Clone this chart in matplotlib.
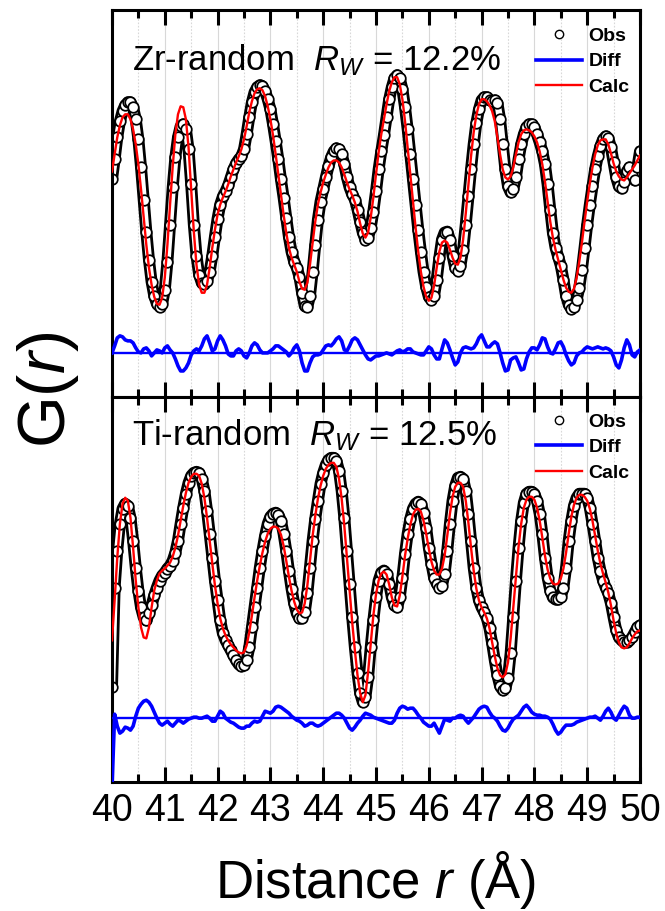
import numpy as np
import matplotlib
matplotlib.use("Agg")
import matplotlib.pyplot as plt
from matplotlib.ticker import MultipleLocator
from matplotlib.lines import Line2D

plt.rcParams['font.family'] = ['Liberation Sans', 'DejaVu Sans']
plt.rcParams['mathtext.fontset'] = 'custom'
plt.rcParams['mathtext.rm'] = 'Liberation Sans'
plt.rcParams['mathtext.it'] = 'Liberation Sans:italic'

# r grid, 0.05 A steps from 40 to 50
r = np.linspace(40.0, 50.0, 201)

# ---- Zr-random panel (top) ----
zr_obs = [
    0.30, 0.70, 1.14, 1.46, 1.66, 1.78, 1.84, 1.84, 1.74, 1.50,
    1.10, 0.54, -0.10, -0.74, -1.30, -1.74, -2.02, -2.18, -2.24, -2.18,
    -1.90, -1.34, -0.60, 0.14, 0.74, 1.14, 1.36, 1.40, 1.30, 0.90,
    0.20, -0.60, -1.22, -1.60, -1.76, -1.78, -1.72, -1.54, -1.22, -0.84,
    -0.48, -0.20, -0.04, 0.06, 0.18, 0.34, 0.50, 0.62, 0.70, 0.76,
    0.90, 1.20, 1.54, 1.84, 2.04, 2.14, 2.18, 2.16, 2.06, 1.90,
    1.70, 1.40, 1.06, 0.70, 0.30, -0.06, -0.46, -0.84, -1.14, -1.34,
    -1.46, -1.64, -1.96, -2.22, -2.24, -2.02, -1.54, -1.00, -0.50, -0.14,
    0.10, 0.34, 0.56, 0.74, 0.86, 0.92, 0.90, 0.80, 0.60, 0.34,
    0.14, 0.00, -0.10, -0.30, -0.54, -0.76, -0.90, -0.86, -0.66, -0.34,
    0.06, 0.50, 0.86, 1.18, 1.54, 1.90, 2.14, 2.32, 2.38, 2.32,
    2.10, 1.74, 1.30, 0.80, 0.30, -0.20, -0.70, -1.14, -1.54, -1.84,
    -2.04, -2.10, -2.02, -1.70, -1.26, -0.90, -0.76, -0.74, -0.90, -1.22,
    -1.46, -1.52, -1.42, -1.10, -0.60, -0.04, 0.50, 1.00, 1.42, 1.70,
    1.88, 1.94, 1.94, 1.88, 1.86, 1.88, 1.82, 1.50, 1.00, 0.50,
    0.16, 0.04, 0.10, 0.34, 0.70, 1.00, 1.20, 1.34, 1.40, 1.40,
    1.34, 1.20, 1.04, 0.86, 0.60, 0.20, -0.30, -0.76, -1.06, -1.24,
    -1.42, -1.70, -2.02, -2.20, -2.28, -2.24, -2.10, -1.86, -1.50, -1.06,
    -0.60, -0.20, 0.16, 0.50, 0.76, 0.96, 1.10, 1.16, 1.12, 0.94,
    0.64, 0.34, 0.16, 0.12, 0.24, 0.46, 0.54, 0.38, 0.28, 0.54,
    0.86,
]
zr_calc = [
    0.46, 0.80, 1.14, 1.38, 1.54, 1.60, 1.60, 1.50, 1.30, 1.00,
    0.60, 0.10, -0.46, -1.00, -1.46, -1.80, -2.04, -2.18, -2.20, -2.06,
    -1.66, -1.00, -0.20, 0.56, 1.20, 1.60, 1.76, 1.74, 1.50, 0.94,
    0.10, -0.74, -1.40, -1.80, -1.96, -1.96, -1.80, -1.46, -1.06, -0.70,
    -0.40, -0.20, -0.06, 0.06, 0.20, 0.36, 0.50, 0.64, 0.76, 0.90,
    1.10, 1.36, 1.64, 1.86, 2.02, 2.10, 2.12, 2.08, 1.96, 1.76,
    1.50, 1.18, 0.80, 0.40, 0.00, -0.40, -0.76, -1.06, -1.26, -1.40,
    -1.54, -1.74, -1.88, -1.90, -1.76, -1.40, -0.96, -0.54, -0.20, 0.04,
    0.24, 0.40, 0.54, 0.64, 0.68, 0.68, 0.64, 0.54, 0.40, 0.24,
    0.10, -0.02, -0.16, -0.34, -0.58, -0.78, -0.86, -0.76, -0.46, -0.06,
    0.40, 0.84, 1.20, 1.50, 1.80, 2.06, 2.24, 2.34, 2.34, 2.20,
    1.90, 1.46, 0.94, 0.40, -0.14, -0.66, -1.14, -1.54, -1.84, -2.04,
    -2.12, -2.06, -1.82, -1.46, -1.14, -0.96, -0.92, -0.96, -1.10, -1.26,
    -1.38, -1.40, -1.26, -0.90, -0.38, 0.20, 0.76, 1.24, 1.58, 1.80,
    1.90, 1.90, 1.86, 1.78, 1.66, 1.46, 1.14, 0.80, 0.50, 0.34,
    0.30, 0.36, 0.54, 0.80, 1.04, 1.20, 1.28, 1.30, 1.28, 1.24,
    1.16, 1.04, 0.86, 0.60, 0.26, -0.14, -0.54, -0.86, -1.10, -1.30,
    -1.50, -1.70, -1.86, -1.94, -1.96, -1.88, -1.66, -1.34, -0.96, -0.54,
    -0.14, 0.22, 0.54, 0.80, 0.98, 1.08, 1.10, 1.10, 1.00, 0.82,
    0.62, 0.46, 0.36, 0.30, 0.28, 0.34, 0.42, 0.50, 0.58, 0.68,
    0.78,
]
zr_diff = [
    0.00, 0.14, 0.30, 0.34, 0.32, 0.26, 0.24, 0.24, 0.20, 0.10,
    0.02, 0.00, 0.08, 0.10, 0.04, -0.06, 0.00, 0.06, 0.04, 0.00,
    0.10, 0.14, 0.06, 0.00, -0.12, -0.26, -0.36, -0.36, -0.30, -0.20,
    -0.04, 0.04, 0.08, 0.04, 0.14, 0.28, 0.34, 0.20, 0.04, 0.08,
    0.24, 0.34, 0.26, 0.14, -0.02, -0.06, -0.06, 0.04, 0.08, 0.04,
    -0.06, -0.10, 0.00, 0.14, 0.20, 0.16, 0.06, 0.00, 0.00, 0.00,
    0.04, 0.08, 0.14, 0.14, 0.10, 0.06, 0.02, -0.06, 0.00, 0.10,
    0.16, 0.04, -0.20, -0.36, -0.36, -0.20, -0.08, -0.04, -0.04, -0.02,
    0.06, 0.14, 0.16, 0.14, 0.20, 0.28, 0.32, 0.24, 0.06, 0.04,
    0.14, 0.26, 0.30, 0.26, 0.16, 0.06, -0.04, -0.12, -0.14, -0.10,
    -0.06, -0.06, -0.04, -0.02, 0.00, -0.02, -0.04, 0.00, 0.04, 0.06,
    0.02, 0.04, 0.08, 0.08, 0.02, 0.00, -0.02, -0.04, -0.04, 0.04,
    0.12, 0.08, -0.04, -0.12, -0.12, 0.08, 0.26, 0.20, 0.06, -0.10,
    -0.24, -0.18, 0.00, 0.10, 0.12, 0.10, 0.08, 0.10, 0.18, 0.30,
    0.36, 0.24, 0.12, 0.12, 0.18, 0.22, 0.18, 0.00, -0.20, -0.36,
    -0.34, -0.14, -0.10, -0.08, -0.20, -0.34, -0.32, -0.12, 0.02, 0.10,
    0.10, 0.06, 0.16, 0.30, 0.28, 0.12, 0.00, -0.02, 0.08, 0.20,
    0.22, 0.12, -0.04, -0.16, -0.24, -0.20, -0.06, 0.00, 0.02, 0.08,
    0.12, 0.10, 0.08, 0.10, 0.12, 0.10, 0.08, 0.10, 0.08, 0.04,
    -0.08, -0.24, -0.30, -0.14, 0.10, 0.26, 0.16, -0.04, -0.08, 0.02,
    0.06,
]
zr_diff_base = -3.16

# ---- Ti-random panel (bottom) ----
ti_obs = [
    -2.14, -0.14, 0.60, 1.14, 1.44, 1.54, 1.50, 1.26, 0.80, 0.26,
    -0.20, -0.54, -0.74, -0.80, -0.66, -0.50, -0.30, -0.14, 0.00, 0.10,
    0.16, 0.24, 0.30, 0.40, 0.56, 0.80, 1.14, 1.46, 1.74, 1.96,
    2.10, 2.16, 2.18, 2.16, 2.04, 1.80, 1.40, 0.94, 0.46, 0.00,
    -0.40, -0.80, -1.06, -1.20, -1.30, -1.40, -1.50, -1.60, -1.68, -1.72,
    -1.70, -1.60, -1.34, -0.94, -0.54, -0.14, 0.26, 0.60, 0.90, 1.14,
    1.28, 1.34, 1.36, 1.32, 1.20, 0.94, 0.60, 0.20, -0.16, -0.46,
    -0.66, -0.76, -0.76, -0.64, -0.26, 0.26, 0.80, 1.24, 1.60, 1.94,
    2.16, 2.32, 2.42, 2.46, 2.46, 2.40, 2.20, 1.80, 1.26, 0.60,
    -0.06, -0.74, -1.34, -1.86, -2.26, -2.44, -2.34, -1.94, -1.34, -0.80,
    -0.34, 0.00, 0.16, 0.20, 0.14, -0.06, -0.34, -0.50, -0.54, -0.34,
    0.06, 0.54, 0.94, 1.24, 1.44, 1.54, 1.58, 1.54, 1.36, 1.06,
    0.66, 0.34, 0.06, -0.06, -0.14, -0.10, 0.14, 0.60, 1.14, 1.60,
    1.90, 2.06, 2.08, 2.04, 1.80, 1.34, 0.80, 0.26, -0.14, -0.40,
    -0.54, -0.64, -0.76, -0.96, -1.26, -1.60, -1.90, -2.12, -2.20, -2.16,
    -1.96, -1.46, -0.74, 0.00, 0.66, 1.20, 1.56, 1.74, 1.78, 1.78,
    1.74, 1.60, 1.34, 0.94, 0.46, 0.06, -0.20, -0.34, -0.38, -0.38,
    -0.34, -0.14, 0.26, 0.80, 1.20, 1.50, 1.66, 1.74, 1.74, 1.74,
    1.66, 1.46, 1.14, 0.80, 0.46, 0.20, 0.00, -0.14, -0.26, -0.46,
    -0.74, -1.00, -1.14, -1.20, -1.24, -1.24, -1.20, -1.14, -1.04, -0.94,
    -0.90,
]
ti_calc = [
    -1.20, -0.40, 0.46, 1.14, 1.54, 1.66, 1.60, 1.26, 0.66, 0.00,
    -0.54, -0.94, -1.14, -1.16, -0.94, -0.54, -0.20, 0.00, 0.14, 0.20,
    0.24, 0.30, 0.36, 0.48, 0.66, 0.90, 1.20, 1.50, 1.76, 1.96,
    2.08, 2.14, 2.14, 2.10, 1.94, 1.66, 1.26, 0.80, 0.34, -0.10,
    -0.46, -0.76, -0.96, -1.10, -1.20, -1.28, -1.34, -1.40, -1.44, -1.46,
    -1.44, -1.30, -1.04, -0.70, -0.34, 0.00, 0.30, 0.56, 0.78, 0.94,
    1.04, 1.08, 1.08, 1.04, 0.92, 0.70, 0.40, 0.08, -0.20, -0.42,
    -0.58, -0.66, -0.64, -0.46, -0.10, 0.40, 0.90, 1.30, 1.64, 1.90,
    2.10, 2.24, 2.32, 2.36, 2.36, 2.28, 2.04, 1.64, 1.10, 0.46,
    -0.20, -0.84, -1.40, -1.90, -2.26, -2.44, -2.30, -1.84, -1.26, -0.70,
    -0.28, 0.00, 0.14, 0.18, 0.12, -0.08, -0.34, -0.50, -0.52, -0.30,
    0.08, 0.50, 0.84, 1.12, 1.32, 1.42, 1.44, 1.38, 1.20, 0.94,
    0.64, 0.38, 0.20, 0.12, 0.12, 0.24, 0.50, 0.90, 1.34, 1.68,
    1.88, 1.96, 1.96, 1.88, 1.60, 1.16, 0.66, 0.20, -0.16, -0.40,
    -0.54, -0.64, -0.76, -0.96, -1.24, -1.52, -1.76, -1.90, -1.94, -1.88,
    -1.64, -1.16, -0.54, 0.10, 0.68, 1.14, 1.46, 1.62, 1.68, 1.68,
    1.62, 1.46, 1.20, 0.86, 0.50, 0.22, 0.04, -0.06, -0.08, -0.06,
    0.04, 0.24, 0.56, 0.94, 1.28, 1.52, 1.66, 1.72, 1.72, 1.68,
    1.60, 1.44, 1.20, 0.90, 0.60, 0.34, 0.14, -0.04, -0.24, -0.50,
    -0.80, -1.06, -1.24, -1.34, -1.36, -1.34, -1.26, -1.16, -1.08, -1.02,
    -1.00,
]
ti_diff = [
    -1.40, 0.08, -0.16, -0.30, -0.26, -0.18, -0.20, -0.24, -0.16, 0.04,
    0.20, 0.28, 0.34, 0.36, 0.32, 0.24, 0.12, 0.00, -0.10, -0.14,
    -0.10, -0.06, -0.12, -0.16, -0.10, -0.04, -0.06, -0.10, -0.06, -0.02,
    0.00, 0.02, 0.02, 0.00, 0.00, 0.02, 0.04, 0.00, -0.06, -0.06,
    0.04, 0.14, 0.10, 0.00, -0.04, -0.08, -0.10, -0.14, -0.18, -0.20,
    -0.20, -0.16, -0.16, -0.10, -0.06, -0.08, -0.06, 0.04, 0.14, 0.12,
    0.10, 0.14, 0.22, 0.24, 0.22, 0.18, 0.14, 0.10, 0.04, 0.00,
    -0.04, -0.06, -0.10, -0.16, -0.14, -0.10, -0.10, -0.14, -0.16, -0.14,
    -0.10, -0.06, -0.02, 0.02, 0.06, 0.10, 0.10, 0.06, 0.00, -0.10,
    -0.20, -0.24, -0.18, -0.10, -0.04, 0.04, 0.10, 0.08, 0.06, 0.02,
    0.00, -0.02, -0.04, -0.06, -0.08, -0.10, -0.10, -0.04, 0.10, 0.20,
    0.24, 0.22, 0.18, 0.20, 0.20, 0.14, 0.06, 0.00, -0.08, -0.12,
    -0.16, -0.16, -0.10, -0.20, -0.30, -0.16, -0.02, -0.04, -0.06, 0.00,
    0.00, 0.04, 0.06, 0.04, -0.04, -0.10, -0.04, 0.02, 0.10, 0.18,
    0.22, 0.24, 0.22, 0.12, 0.04, 0.00, -0.06, -0.16, -0.24, -0.26,
    -0.20, -0.10, -0.02, 0.02, 0.06, 0.14, 0.22, 0.26, 0.20, 0.12,
    0.08, 0.06, 0.06, 0.04, 0.04, 0.02, -0.02, -0.12, -0.24, -0.32,
    -0.28, -0.20, -0.14, -0.14, -0.14, -0.12, -0.08, -0.06, -0.04, -0.02,
    0.00, 0.02, 0.02, 0.04, 0.00, -0.04, 0.04, 0.14, 0.20, 0.12,
    0.00, -0.04, 0.06, 0.16, 0.24, 0.20, 0.06, 0.00, 0.00, 0.02,
    0.02,
]
ti_diff_base = -2.76

panels = [
    ("Zr-random", "12.2%", zr_obs, zr_calc, zr_diff, zr_diff_base, 0.845, 0.955),
    ("Ti-random", "12.5%", ti_obs, ti_calc, ti_diff, ti_diff_base, 0.875, 0.958),
]

fig = plt.figure(figsize=(6.65, 9.11), dpi=100)
ax_top = fig.add_axes([0.1684, 0.5642, 0.7940, 0.4248])
ax_bot = fig.add_axes([0.1684, 0.1416, 0.7940, 0.4226])

for ax, (name, rw, obs, calc, diff, base, ty, ly) in zip([ax_top, ax_bot], panels):
    ax.set_xlim(40, 50)
    ax.set_ylim(-4.04, 3.68)
    ax.xaxis.set_major_locator(MultipleLocator(1))
    ax.xaxis.set_minor_locator(MultipleLocator(0.5))
    ax.grid(axis='x', which='major', color='#d8d8d8', lw=0.8, ls='-', zorder=0)
    ax.grid(axis='x', which='minor', color='#d8d8d8', lw=0.8, ls=(0, (1.5, 1.5)), zorder=0)
    ax.set_axisbelow(True)

    # observed points drawn densely: outlined band with hollow circles on top
    ax.plot(r, obs, '-', color='black', lw=8.6, solid_capstyle='round',
            solid_joinstyle='round', zorder=2)
    ax.plot(r, obs, '-', color='white', lw=4.6, solid_capstyle='round',
            solid_joinstyle='round', zorder=2)
    ax.plot(r, obs, 'o', ms=7.6, mfc='white', mec='black', mew=1.25, zorder=2)
    ax.plot(r, calc, '-', color='#ff0000', lw=1.7, zorder=3)
    ax.axhline(base, color='#0000ff', lw=1.7, zorder=3)
    ax.plot(r, np.array(diff) + base, '-', color='#0000ff', lw=2.6, zorder=3)

    for s in ax.spines.values():
        s.set_linewidth(2.2)
    ax.tick_params(axis='x', which='both', direction='in', top=True, bottom=True,
                   width=2.2, labelsize=27, pad=8)
    ax.tick_params(axis='x', which='major', length=11)
    ax.tick_params(axis='x', which='minor', length=6)
    ax.tick_params(axis='y', left=False, right=False, labelleft=False)

    ax.text(0.038, ty, name + "  $\\mathit{R}_{\\mathit{W}}$ = " + rw,
            transform=ax.transAxes, fontsize=25, va='baseline', ha='left')

    handles = [
        Line2D([], [], ls='none', marker='o', ms=6, mfc='white', mec='black', mew=1.0),
        Line2D([], [], color='#0000ff', lw=2.6),
        Line2D([], [], color='#ff0000', lw=1.7),
    ]
    ax.legend(handles, ["Obs", "Diff", "Calc"], loc='upper right',
              bbox_to_anchor=(0.98, ly), frameon=False, borderaxespad=0,
              borderpad=0, handlelength=2.4, handletextpad=0.3, labelspacing=0.4,
              prop={'weight': 'bold', 'size': 14})

ax_top.tick_params(axis='x', labelbottom=False)

fig.text(48 / 665, 1 - 390 / 911, "G($\\mathit{r}$)", rotation=90, fontsize=48,
         ha='center', va='center')
fig.text(0.5654, 1 - 880 / 911, "Distance $\\mathit{r}$ (\u00c5)", fontsize=38,
         ha='center', va='center')

fig.savefig("out.png", dpi=100, facecolor="white")
